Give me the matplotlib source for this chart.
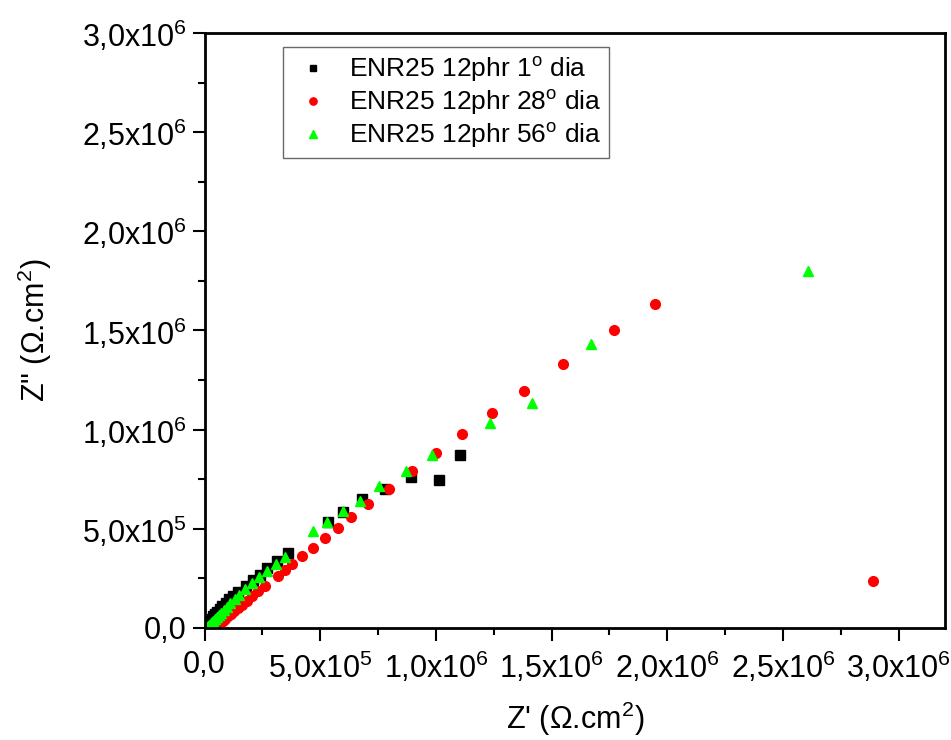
import numpy as np
import matplotlib
matplotlib.use("Agg")
import matplotlib.pyplot as plt

plt.rcParams['font.family'] = ['Liberation Sans', 'DejaVu Sans']
plt.rcParams['mathtext.fontset'] = 'custom'
plt.rcParams['mathtext.rm'] = 'Liberation Sans'
plt.rcParams['mathtext.it'] = 'Liberation Sans'

# dados (unidades de 1e6 ohm.cm2)
x_1dia = [1.102, 1.013, 0.893, 0.780, 0.682, 0.599, 0.532, 0.362, 0.312, 0.271,
          0.239, 0.208, 0.180, 0.146, 0.125, 0.107, 0.091, 0.077, 0.065, 0.054,
          0.045, 0.037, 0.030, 0.024, 0.019, 0.014, 0.010, 0.006, 0.003]
y_1dia = [0.871, 0.745, 0.761, 0.700, 0.649, 0.587, 0.536, 0.380, 0.339, 0.301,
          0.267, 0.242, 0.213, 0.183, 0.163, 0.145, 0.128, 0.112, 0.097, 0.083,
          0.070, 0.058, 0.047, 0.037, 0.028, 0.020, 0.013, 0.007, 0.003]

x_28dia = [2.890, 1.948, 1.768, 1.549, 1.379, 1.241, 1.112, 1.002, 0.898, 0.796,
           0.707, 0.633, 0.575, 0.520, 0.467, 0.422, 0.379, 0.346, 0.316, 0.261,
           0.232, 0.205, 0.182, 0.162, 0.144, 0.128, 0.114, 0.101, 0.090, 0.080,
           0.071, 0.063, 0.056, 0.050, 0.045, 0.041]
y_28dia = [0.237, 1.632, 1.501, 1.331, 1.195, 1.083, 0.977, 0.883, 0.793, 0.703,
           0.626, 0.558, 0.504, 0.452, 0.403, 0.363, 0.321, 0.292, 0.262, 0.213,
           0.185, 0.160, 0.137, 0.117, 0.100, 0.084, 0.070, 0.058, 0.047, 0.037,
           0.029, 0.021, 0.015, 0.010, 0.006, 0.003]

x_56dia = [2.610, 1.668, 1.415, 1.233, 0.984, 0.871, 0.756, 0.672, 0.599, 0.529,
           0.470, 0.347, 0.307, 0.268, 0.236, 0.206, 0.175, 0.150, 0.130, 0.112,
           0.097, 0.084, 0.072, 0.062, 0.053, 0.045, 0.038, 0.032, 0.026, 0.021,
           0.016, 0.012, 0.008]
y_56dia = [1.802, 1.430, 1.133, 1.032, 0.872, 0.792, 0.714, 0.642, 0.592, 0.533,
           0.491, 0.357, 0.321, 0.287, 0.256, 0.225, 0.195, 0.168, 0.145, 0.124,
           0.106, 0.091, 0.077, 0.065, 0.055, 0.046, 0.037, 0.030, 0.023, 0.017,
           0.011, 0.006, 0.003]

legendas = ['ENR25 12phr 1$^{o}$ dia', 'ENR25 12phr 28$^{o}$ dia', 'ENR25 12phr 56$^{o}$ dia']

ticks_x = [0, 0.5e6, 1.0e6, 1.5e6, 2.0e6, 2.5e6, 3.0e6]
rotulos_x = ['0,0', '5,0x10$^{5}$', '1,0x10$^{6}$', '1,5x10$^{6}$',
             '2,0x10$^{6}$', '2,5x10$^{6}$', '3,0x10$^{6}$']
ticks_y = [0, 0.5e6, 1.0e6, 1.5e6, 2.0e6, 2.5e6, 3.0e6]
rotulos_y = rotulos_x

fig = plt.figure(figsize=(9.51, 7.40), dpi=100)
ax = fig.add_axes([0.2151, 0.1514, 0.7786, 0.804])

ax.plot(np.array(x_1dia) * 1e6, np.array(y_1dia) * 1e6, 's', color='black',
        markersize=6.5, label=legendas[0], linestyle='none')
ax.plot(np.array(x_28dia) * 1e6, np.array(y_28dia) * 1e6, 'o', color='#ff0000',
        markersize=7, label=legendas[1], linestyle='none')
ax.plot(np.array(x_56dia) * 1e6, np.array(y_56dia) * 1e6, '^', color='#00ff00',
        markersize=7, label=legendas[2], linestyle='none')

ax.set_xlim(0, 3.2e6)
ax.set_ylim(0, 3.0e6)

ax.set_xticks(ticks_x)
ax.set_xticklabels(rotulos_x)
ax.set_yticks(ticks_y)
ax.set_yticklabels(rotulos_y)
ax.set_xticks(np.arange(0.25e6, 3.2e6, 0.5e6), minor=True)
ax.set_yticks(np.arange(0.25e6, 3.0e6, 0.5e6), minor=True)

ax.tick_params(axis='both', which='major', direction='out', length=9, width=1.5,
               labelsize=22, pad=4)
ax.tick_params(axis='both', which='minor', direction='out', length=5, width=1.5)
ax.tick_params(top=False, right=False, which='both')
ax.tick_params(axis='x', which='major', pad=7)

for lado in ax.spines.values():
    lado.set_linewidth(2)

ax.set_xlabel("Z' (\u03a9.cm$^{2}$)", fontsize=22, labelpad=10)
ax.set_ylabel('Z" (\u03a9.cm$^{2}$)', fontsize=22, labelpad=20)

leg = ax.legend(loc='upper left', bbox_to_anchor=(0.106, 0.976), borderaxespad=0,
                fontsize=19, frameon=True, fancybox=False, edgecolor='#444444',
                handletextpad=0.5, borderpad=0.3, labelspacing=0.15,
                markerscale=0.75, handlelength=1.7)
leg.get_frame().set_linewidth(1)

fig.savefig('out.png', dpi=100)
